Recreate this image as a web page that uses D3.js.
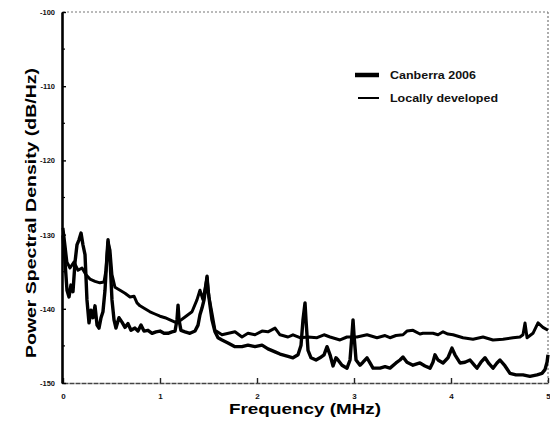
<!DOCTYPE html>
<html>
<head>
<meta charset="utf-8">
<script src="https://cdn.jsdelivr.net/npm/d3@7"></script>
<style>
  html, body { margin: 0; padding: 0; background: #fff; }
  svg { display: block; font-family: "Liberation Sans", Arial, sans-serif; }
</style>
</head>
<body>
<svg id="chart" width="550" height="432"></svg>
<script>
// Frequency axis (MHz) and PSD axis (dB/Hz) ticks
const xTicks = [0, 1, 2, 3, 4, 5];
const yTicks = [-100, -110, -120, -130, -140, -150];

// Canberra 2006 preamplifier noise spectrum
const canberraFreq = [
  0, .021, .041, .062, .082, .103, .124, .144, .165, .186, .206, .227, .247, .268, .289, .309,
  .330, .351, .371, .392, .412, .433, .454, .464, .485, .505, .526, .546, .577, .608, .639, .670,
  .701, .742, .773, .804, .835, .876, .918, .959, 1.0, 1.041, 1.082, 1.124, 1.155, 1.175, 1.186,
  1.196, 1.216, 1.258, 1.309, 1.361, 1.392, 1.412, 1.433, 1.454, 1.474, 1.485, 1.495, 1.515,
  1.536, 1.567, 1.598, 1.639, 1.701, 1.773, 1.845, 1.907, 1.979, 2.052, 2.113, 2.186, 2.237,
  2.320, 2.371, 2.423, 2.454, 2.474, 2.495, 2.505, 2.526, 2.557, 2.608, 2.649, 2.691, 2.722,
  2.753, 2.784, 2.814, 2.835, 2.876, 2.928, 2.959, 2.979, 2.990, 3.0, 3.021, 3.062, 3.093,
  3.134, 3.165, 3.196, 3.268, 3.320, 3.371, 3.433, 3.474, 3.505, 3.546, 3.608, 3.680, 3.732,
  3.784, 3.814, 3.835, 3.866, 3.918, 3.969, 4.010, 4.041, 4.093, 4.144, 4.196, 4.247, 4.268,
  4.309, 4.351, 4.392, 4.433, 4.474, 4.505, 4.557, 4.608, 4.670, 4.742, 4.814, 4.887, 4.938,
  4.969, 4.990, 5.0
];
const canberraPsd = [
  -130.1, -133.7, -137.5, -138.4, -136.8, -137.7, -133.7, -131.4, -130.7, -129.8, -131.4, -132.7, -138.8, -141.9, -140.2, -141.2,
  -139.6, -142.2, -142.6, -141.2, -140.4, -137.5, -132.7, -130.7, -133.4, -138.8, -141.5, -142.6, -141.2, -141.8, -142.5, -142.0,
  -142.9, -142.6, -143.0, -142.2, -143.0, -142.9, -143.3, -143.1, -143.0, -143.3, -143.3, -143.1, -143.0, -141.5, -139.5,
  -141.5, -142.9, -143.1, -143.3, -143.0, -142.2, -140.8, -139.9, -138.8, -136.8, -135.6, -137.5, -139.5,
  -141.5, -143.1, -143.9, -144.2, -144.6, -145.1, -145.1, -144.9, -145.1, -144.9, -145.4, -145.8, -146.1,
  -146.4, -146.6, -146.2, -144.9, -141.5, -139.2, -141.5, -145.6, -146.6, -146.9, -146.6, -146.2, -145.1,
  -146.2, -147.7, -146.6, -146.9, -147.6, -148.0, -146.9, -143.5, -141.5, -143.5, -146.9, -147.6, -147.2,
  -146.6, -147.3, -148.0, -148.0, -147.8, -148.0, -147.3, -146.9, -146.5, -147.2, -147.6, -147.3, -147.7,
  -148.0, -147.2, -146.2, -146.9, -147.3, -146.6, -145.3, -146.2, -147.3, -147.2, -146.9, -147.7, -148.0,
  -147.2, -146.6, -147.4, -148.0, -147.3, -146.9, -147.7, -148.7, -148.9, -148.9, -149.1, -148.9, -148.7,
  -148.2, -147.2, -146.2
];

// Locally developed preamplifier noise spectrum
const localFreq = [
  0, .021, .041, .072, .113, .155, .196, .237, .278, .330, .381, .423, .443, .464, .485, .505,
  .536, .588, .639, .691, .732, .763, .794, .845, .897, .948, 1.0, 1.052, 1.103, 1.155, 1.186,
  1.258, 1.330, 1.381, 1.412, 1.443, 1.485, 1.505, 1.536, 1.567, 1.639, 1.773, 1.845, 1.907,
  1.979, 2.052, 2.113, 2.186, 2.237, 2.320, 2.371, 2.443, 2.526, 2.619, 2.691, 2.753, 2.856,
  2.928, 3.031, 3.134, 3.237, 3.320, 3.371, 3.433, 3.505, 3.546, 3.608, 3.680, 3.711, 3.814,
  3.866, 3.918, 3.969, 4.021, 4.124, 4.227, 4.330, 4.433, 4.536, 4.639, 4.711, 4.742, 4.763,
  4.784, 4.845, 4.897, 4.948, 5.0
];
const localPsd = [
  -129.1, -131.4, -133.7, -134.5, -133.7, -134.8, -134.5, -135.4, -136.0, -136.3, -136.5, -136.4, -134.8, -131.0, -132.1, -135.4,
  -137.1, -137.5, -137.9, -138.4, -138.3, -139.2, -139.6, -140.0, -140.4, -140.7, -141.0, -141.2, -141.5, -141.8, -141.8,
  -141.1, -140.4, -138.8, -137.5, -138.8, -135.8, -138.4, -140.6, -142.9, -143.5, -143.1, -143.8, -143.3,
  -143.5, -143.0, -143.1, -142.6, -143.5, -143.8, -143.5, -143.9, -143.8, -143.9, -143.5, -143.8, -144.2,
  -143.8, -143.8, -143.5, -143.9, -143.6, -143.9, -143.6, -143.5, -143.0, -142.9, -143.4, -143.3, -143.3,
  -143.5, -143.1, -143.4, -143.5, -143.9, -144.1, -143.8, -144.2, -144.1, -143.9, -143.8, -143.5, -141.9,
  -143.9, -143.3, -141.9, -142.5, -142.9
];

const seriesNames = ["Canberra 2006", "Locally developed"];

const svg = d3.select("#chart");
const margin = { left: 62, right: 2, top: 12, bottom: 49 };
const W = 550, H = 432;

const x = d3.scaleLinear().domain([0, 5]).range([margin.left + 1, W - margin.right]);
const y = d3.scaleLinear().domain([-150, -100]).range([H - margin.bottom, margin.top]);

// frame: dotted top and right edges
svg.append("line")
  .attr("x1", x(0)).attr("x2", x(5)).attr("y1", y(-100)).attr("y2", y(-100))
  .attr("stroke", "#777").attr("stroke-width", 1.2).attr("stroke-dasharray", "2,2");
svg.append("line")
  .attr("x1", x(5)).attr("x2", x(5)).attr("y1", y(-100)).attr("y2", y(-150))
  .attr("stroke", "#777").attr("stroke-width", 1.2).attr("stroke-dasharray", "2,2");

// bottom axis
const xAxis = d3.axisBottom(x).tickValues(xTicks).tickSizeInner(-5).tickSizeOuter(0)
  .tickPadding(10).tickFormat(d3.format("d"));
const gx = svg.append("g").attr("transform", `translate(0,${y(-150)})`).call(xAxis);
gx.select(".domain").attr("stroke", "#444").attr("stroke-width", 1.6).attr("stroke-dasharray", "5,1");
gx.selectAll(".tick line").attr("stroke", "#222").attr("stroke-width", 1.4);
gx.selectAll(".tick text").attr("font-size", 8).attr("font-weight", "bold").attr("fill", "#111");

// left axis with minor ticks
const yAxis = d3.axisLeft(y).tickValues(yTicks).tickSizeInner(-4).tickSizeOuter(0)
  .tickPadding(7).tickFormat(d => d3.format("d")(d).replace("\u2212", "-"));
const gy = svg.append("g").attr("transform", `translate(${margin.left},0)`).call(yAxis);
gy.select(".domain").attr("stroke", "#000").attr("stroke-width", 2.6);
gy.selectAll(".tick line").attr("stroke", "#000").attr("stroke-width", 1.4);
gy.selectAll(".tick text").attr("font-size", 7.5).attr("font-weight", "bold").attr("fill", "#111");
const minor = d3.range(-145, -100, 10);
svg.append("g").selectAll("line").data(minor).join("line")
  .attr("x1", margin.left).attr("x2", margin.left + 3)
  .attr("y1", d => y(d)).attr("y2", d => y(d))
  .attr("stroke", "#000").attr("stroke-width", 1.2);

// spectra
const line = d3.line().x(d => x(d[0])).y(d => y(d[1])).curve(d3.curveLinear);
const localData = localFreq.map((f, i) => [f, localPsd[i]]);
const canberraData = canberraFreq.map((f, i) => [f, canberraPsd[i]]);

svg.append("path").datum(localData).attr("d", line)
  .attr("fill", "none").attr("stroke", "#000").attr("stroke-width", 3)
  .attr("stroke-linejoin", "round");
svg.append("path").datum(canberraData).attr("d", line)
  .attr("fill", "none").attr("stroke", "#000").attr("stroke-width", 3.4)
  .attr("stroke-linejoin", "round");

// legend
const legend = svg.append("g");
const legendRows = [
  { name: seriesNames[0], width: 4.5, ty: 75, x1: 355, tl: 86 },
  { name: seriesNames[1], width: 2, ty: 98, x1: 358, tl: 108 }
];
legendRows.forEach(r => {
  legend.append("line").attr("x1", r.x1).attr("x2", 379).attr("y1", r.ty).attr("y2", r.ty)
    .attr("stroke", "#000").attr("stroke-width", r.width);
  legend.append("text").attr("x", 390).attr("y", r.ty + 4)
    .attr("font-size", 11).attr("font-weight", "bold").attr("fill", "#111")
    .attr("textLength", r.tl).attr("lengthAdjust", "spacingAndGlyphs")
    .text(r.name);
});

// axis titles
svg.append("text").attr("x", 305).attr("y", 414).attr("text-anchor", "middle")
  .attr("font-size", 15).attr("font-weight", "bold").attr("fill", "#000")
  .attr("textLength", 152).attr("lengthAdjust", "spacingAndGlyphs")
  .text("Frequency (MHz)");
svg.append("text").attr("transform", "translate(36,213) rotate(-90)").attr("text-anchor", "middle")
  .attr("font-size", 14).attr("font-weight", "bold").attr("fill", "#000")
  .attr("textLength", 290).attr("lengthAdjust", "spacingAndGlyphs")
  .text("Power Spectral Density (dB/Hz)");
</script>
</body>
</html>
